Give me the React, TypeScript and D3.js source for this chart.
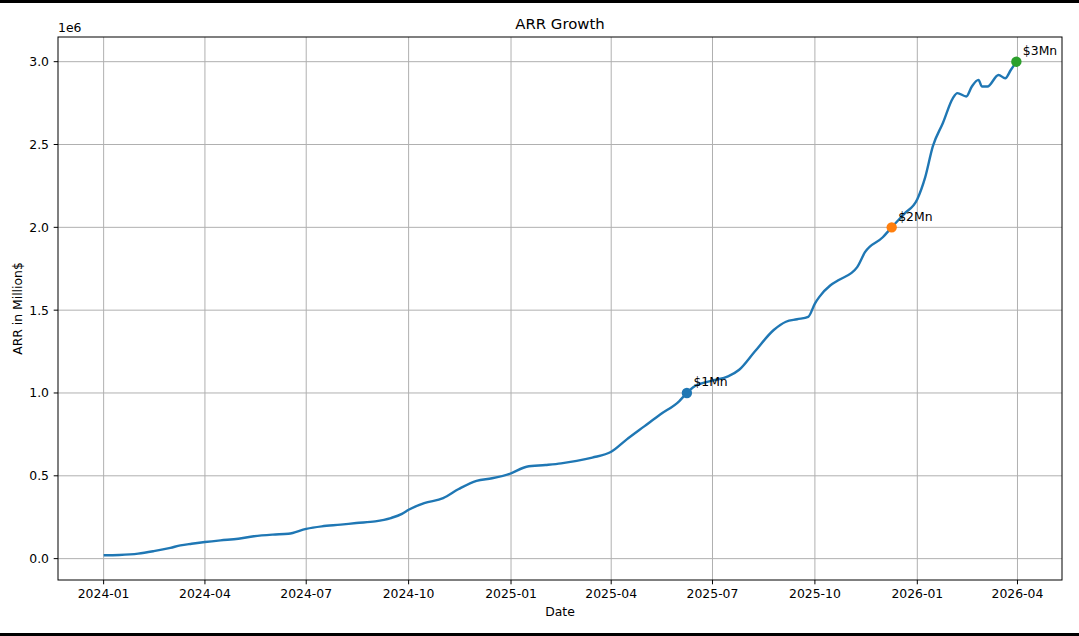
import React from "react";
import * as d3 from "d3";

// ARR series (value in $)
const dates = [
  "2024-01-01", "2024-01-15", "2024-02-01", "2024-02-15", "2024-03-01", "2024-03-10",
  "2024-03-20", "2024-04-01", "2024-04-15", "2024-05-01", "2024-05-15", "2024-06-01",
  "2024-06-15", "2024-07-01", "2024-07-15", "2024-08-01", "2024-08-15", "2024-09-01",
  "2024-09-15", "2024-09-25", "2024-10-01", "2024-10-15", "2024-11-01", "2024-11-15",
  "2024-12-01", "2024-12-15", "2025-01-01", "2025-01-15", "2025-02-01", "2025-02-15",
  "2025-03-01", "2025-03-15", "2025-04-01", "2025-04-15", "2025-05-01", "2025-05-15",
  "2025-06-01", "2025-06-08", "2025-06-15", "2025-07-01", "2025-07-15", "2025-07-25",
  "2025-08-08", "2025-08-25", "2025-09-05", "2025-09-15", "2025-09-25", "2025-10-01",
  "2025-10-05", "2025-10-15", "2025-10-22", "2025-11-08", "2025-11-15", "2025-12-01",
  "2025-12-09", "2025-12-20", "2026-01-01", "2026-01-08", "2026-01-15", "2026-01-24",
  "2026-02-02", "2026-02-06", "2026-02-14", "2026-02-19", "2026-02-25", "2026-02-28",
  "2026-03-05", "2026-03-15", "2026-03-21", "2026-03-26", "2026-03-31",
];
const arrValues = [
  20000, 22000, 30000, 45000, 65000, 80000,
  90000, 100000, 110000, 120000, 135000, 145000,
  150000, 180000, 195000, 205000, 215000, 225000,
  245000, 270000, 295000, 335000, 365000, 420000,
  470000, 485000, 515000, 555000, 565000, 575000,
  590000, 610000, 645000, 720000, 800000, 870000,
  950000, 1000000, 1040000, 1075000, 1100000, 1140000,
  1250000, 1380000, 1430000, 1445000, 1460000, 1540000,
  1580000, 1650000, 1680000, 1760000, 1850000, 1940000,
  2000000, 2080000, 2170000, 2300000, 2490000, 2630000,
  2780000, 2810000, 2790000, 2850000, 2890000, 2850000,
  2850000, 2920000, 2900000, 2950000, 3000000,
];

// milestone markers
const milestoneDates = ["2025-06-08", "2025-12-09", "2026-03-31"];
const milestoneValues = [1000000, 2000000, 3000000];
const milestoneLabels = ["$1Mn", "$2Mn", "$3Mn"];
const milestoneColors = ["#1f77b4", "#ff7f0e", "#2ca02c"];

const xTickLabels = [
  "2024-01", "2024-04", "2024-07", "2024-10", "2025-01",
  "2025-04", "2025-07", "2025-10", "2026-01", "2026-04",
];
const yTicks = [0, 0.5, 1.0, 1.5, 2.0, 2.5, 3.0];

const W = 1079;
const H = 636;
const margin = { top: 37, right: 17, bottom: 56, left: 58 };
const font = "DejaVu Sans, sans-serif";

export default function App() {
  const parse = d3.utcParse("%Y-%m-%d");
  const data = dates.map((d, i) => ({ date: parse(d)!, value: arrValues[i] }));
  const parseMonth = d3.utcParse("%Y-%m");

  const x0 = margin.left;
  const x1 = W - margin.right;
  const y0 = H - margin.bottom;
  const y1 = margin.top;

  const [tMin, tMax] = d3.extent(data, (d) => d.date) as [Date, Date];
  const tPad = (tMax.getTime() - tMin.getTime()) * 0.05;
  const x = d3
    .scaleUtc()
    .domain([new Date(tMin.getTime() - tPad), new Date(tMax.getTime() + tPad)])
    .range([x0, x1]);

  const [vMin, vMax] = d3.extent(data, (d) => d.value) as [number, number];
  const vPad = (vMax - vMin) * 0.05;
  const y = d3.scaleLinear().domain([vMin - vPad, vMax + vPad]).range([y0, y1]);

  const line = d3
    .line<{ date: Date; value: number }>()
    .x((d) => x(d.date))
    .y((d) => y(d.value))
    .curve(d3.curveMonotoneX);

  return (
    <svg
      width={W}
      height={H}
      style={{ position: "absolute", left: 0, top: 0, background: "#fff" }}
      fontFamily={font}
    >
      <rect x={0} y={0} width={W} height={3} fill="#000" />
      <rect x={0} y={H - 3} width={W} height={3} fill="#000" />

      {/* grid */}
      {xTickLabels.map((t) => {
        const px = x(parseMonth(t)!);
        return <line key={"gx" + t} x1={px} x2={px} y1={y1} y2={y0} stroke="#b0b0b0" strokeWidth={1} />;
      })}
      {yTicks.map((t) => {
        const py = y(t * 1e6);
        return <line key={"gy" + t} x1={x0} x2={x1} y1={py} y2={py} stroke="#b0b0b0" strokeWidth={1} />;
      })}

      <path d={line(data) ?? ""} fill="none" stroke="#1f77b4" strokeWidth={2.4} strokeLinejoin="round" />

      {milestoneDates.map((d, i) => {
        const px = x(parse(d)!);
        const py = y(milestoneValues[i]);
        return (
          <g key={"m" + i}>
            <circle cx={px} cy={py} r={5.2} fill={milestoneColors[i]} />
            <text x={px + 6.5} y={py - 6.5} fontSize={12.4} fill="#000">
              {milestoneLabels[i]}
            </text>
          </g>
        );
      })}

      {/* frame */}
      <rect x={x0} y={y1} width={x1 - x0} height={y0 - y1} fill="none" stroke="#000" strokeWidth={1} />

      {/* x ticks */}
      {xTickLabels.map((t) => {
        const px = x(parseMonth(t)!);
        return (
          <g key={"xt" + t}>
            <line x1={px} x2={px} y1={y0} y2={y0 + 4.3} stroke="#000" strokeWidth={1} />
            <text x={px} y={y0 + 18} fontSize={12.4} textAnchor="middle" fill="#000">
              {t}
            </text>
          </g>
        );
      })}

      {/* y ticks */}
      {yTicks.map((t) => {
        const py = y(t * 1e6);
        return (
          <g key={"yt" + t}>
            <line x1={x0 - 4.3} x2={x0} y1={py} y2={py} stroke="#000" strokeWidth={1} />
            <text x={x0 - 9} y={py} fontSize={12.4} textAnchor="end" dominantBaseline="central" fill="#000">
              {t.toFixed(1)}
            </text>
          </g>
        );
      })}

      <text x={x0} y={y1 - 5} fontSize={12.4} fill="#000">1e6</text>
      <text x={(x0 + x1) / 2} y={29} fontSize={14.9} textAnchor="middle" fill="#000">ARR Growth</text>
      <text x={(x0 + x1) / 2} y={616} fontSize={12.4} textAnchor="middle" fill="#000">Date</text>
      <text
        transform={`translate(22,${(y0 + y1) / 2}) rotate(-90)`}
        fontSize={12.4}
        textAnchor="middle"
        fill="#000"
      >
        ARR in Million$
      </text>
    </svg>
  );
}
